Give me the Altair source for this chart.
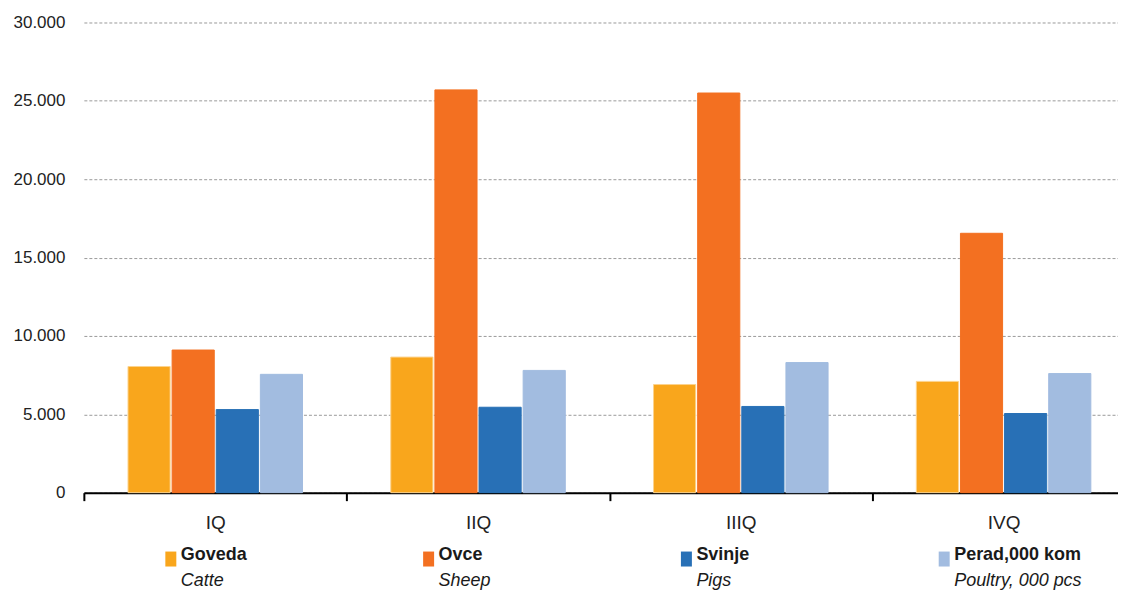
import altair as alt
import pandas as pd

quarters = ["IQ", "IIQ", "IIIQ", "IVQ"]
series = ["Goveda", "Ovce", "Svinje", "Perad,000 kom"]
subtitles = ["Catte", "Sheep", "Pigs", "Poultry, 000 pcs"]
colors = ["#F9A61C", "#F37021", "#2870B6", "#A2BCE0"]
strokes = ["#FCD38E", "#F37021", "#2870B6", "#A2BCE0"]

goveda = [8050, 8650, 6900, 7100]
ovce = [9100, 25700, 25500, 16550]
svinje = [5300, 5450, 5500, 5050]
perad = [7550, 7800, 8300, 7600]

values = [goveda, ovce, svinje, perad]
rows = []
for s, vals in zip(series, values):
    for q, v in zip(quarters, vals):
        rows.append({"quarter": q, "series": s, "value": v})
df = pd.DataFrame(rows)

legend_df = pd.DataFrame({"series": series, "subtitle": subtitles})

W = 1053
H = 471
FONT = "Liberation Sans"

bars = alt.Chart(df).mark_bar(strokeWidth=1).encode(
    x=alt.X(
        "quarter:N",
        sort=quarters,
        scale=alt.Scale(paddingInner=0, paddingOuter=0),
        axis=alt.Axis(
            title=None, labelAngle=0, domainColor="black", domainWidth=2,
            tickColor="black", tickWidth=2, tickSize=8, tickBand="extent",
            labelFontSize=19, labelColor="#222222", labelPadding=13, grid=False,
            labelFont=FONT,
        ),
    ),
    xOffset=alt.XOffset("series:N", sort=series,
                        scale=alt.Scale(paddingInner=0.045, paddingOuter=1)),
    y=alt.Y(
        "value:Q",
        scale=alt.Scale(domain=[0, 30000], nice=False),
        axis=alt.Axis(
            title=None, values=[0, 5000, 10000, 15000, 20000, 25000, 30000],
            labelExpr="replace(format(datum.value, ','), ',', '.')",
            grid=True, gridDash=[3, 2], gridColor="#9a9a9a", gridWidth=1,
            domain=False, ticks=False, labelPadding=19, labelFontSize=17,
            labelColor="#222222", labelFont=FONT,
        ),
    ),
    color=alt.Color("series:N", sort=series, scale=alt.Scale(domain=series, range=colors), legend=None),
    stroke=alt.Stroke("series:N", sort=series, scale=alt.Scale(domain=series, range=strokes), legend=None),
).properties(width=W, height=H)

lx = alt.X("series:N", sort=series, scale=alt.Scale(paddingInner=0, paddingOuter=0), axis=None)

sym = alt.Chart(legend_df).mark_bar(width=11, xOffset=-42).encode(
    x=lx,
    y=alt.value(9), y2=alt.value(24),
    color=alt.Color("series:N", sort=series, scale=alt.Scale(domain=series, range=colors), legend=None),
)
lab = alt.Chart(legend_df).mark_text(
    align="left", baseline="middle", dx=-32, fontSize=18, fontWeight="bold",
    font=FONT, color="#1a1a1a",
).encode(x=lx, y=alt.value(12), text="series:N")
sub = alt.Chart(legend_df).mark_text(
    align="left", baseline="middle", dx=-32, fontSize=18, fontStyle="italic",
    font=FONT, color="#1a1a1a",
).encode(x=lx, y=alt.value(39), text="subtitle:N")

legend = alt.layer(sym, lab, sub).properties(width=W - 20, height=40)

chart = alt.vconcat(bars, legend, spacing=10).resolve_scale(
    x="independent", y="independent", color="independent"
).properties(
    padding={"top": 5, "left": 5, "right": -18, "bottom": 1}
).configure(font=FONT).configure_view(stroke=None)

chart.save("out.html", embed_options={"renderer": "svg", "actions": False})
